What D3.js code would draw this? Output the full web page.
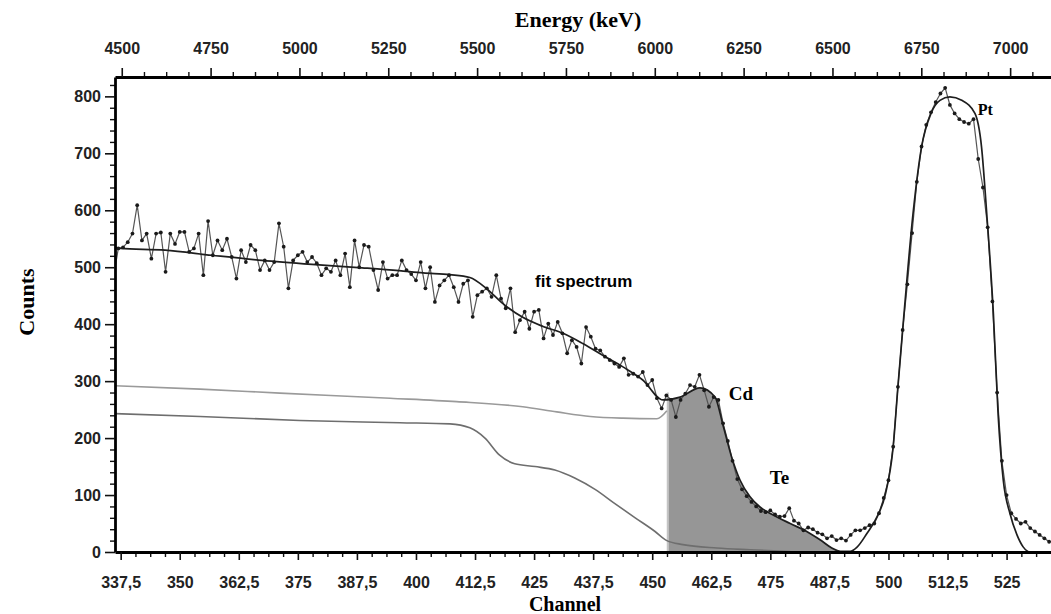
<!DOCTYPE html>
<html>
<head>
<meta charset="utf-8">
<script src="https://cdn.jsdelivr.net/npm/d3@7"></script>
<style>
  body { margin: 0; background: #fff; }
  svg { display: block; }
</style>
</head>
<body>
<svg id="chart" width="1051" height="614"></svg>
<script>
// measured spectrum: one value per channel, starting at firstChannel
const firstChannel = 336;
const counts = [
  483,533,535,544,559,609,547,559,515,559,
  561,492,559,541,562,562,527,533,559,486,
  581,521,547,530,550,518,480,530,509,539,
  530,495,512,495,509,577,536,463,512,521,
  527,509,518,507,486,498,492,512,486,524,
  465,547,500,539,536,495,460,509,480,486,
  486,512,495,488,477,509,463,500,439,468,
  477,486,465,439,471,477,413,451,457,463,
  448,486,445,428,463,386,407,422,392,422,
  425,375,401,381,404,384,349,372,360,331,
  395,378,357,354,343,337,331,325,340,311,
  313,308,316,293,302,270,252,275,267,237,
  267,278,293,290,311,284,255,272,267,226,
  195,160,128,110,98,88,80,72,70,73,
  66,62,63,77,55,50,38,43,40,34,
  31,24,28,21,24,20,30,38,38,42,
  47,50,68,95,126,185,290,390,470,560,
  650,712,750,772,790,805,815,785,770,760,
  755,752,760,690,640,570,440,280,160,100,
  68,58,50,53,42,36,30,24,18
];

// fitted spectrum
const fitChannels = [336, 337.4, 346.9, 356.8, 367.4, 378.0, 388.6, 396.4, 401.5, 407.2,
  411.4, 415.0, 418.4, 422.6, 426.9, 431.1, 435.3, 439.6, 443.8, 448.0,
  452.3, 455.9, 460.1, 463.3, 465.0, 466.8, 468.6, 470.7, 472.8, 475.6,
  479.2, 482.7, 485.6, 488.0, 489.8, 491.9, 493.3, 495.4, 497.6, 499.3,
  501.0, 502.0, 503.3, 505.2, 507.0, 509.0, 510.9, 513.0, 515.5, 518.3,
  519.7, 520.8, 522.2, 523.2, 524.3, 525.7, 527.2, 528.5, 530.0, 534.4];
const fitCounts = [536, 533, 530, 521, 512, 505, 499, 494, 490, 487,
  482, 462, 436, 412, 396, 384, 366, 345, 325, 302,
  267, 272, 288, 272, 222, 167, 126, 97, 79, 65,
  50, 36, 21, 7, 1, 1, 8, 32, 62, 100,
  185, 290, 419, 594, 711, 770, 793, 799, 793, 770,
  711, 594, 419, 243, 126, 68, 30, 9, 0, 0];

// background components
const bgUpperChannels = [336, 354.3, 371.2, 394.5, 408.6, 422.6, 429.8, 436.9, 443.8, 451.0, 453.1];
const bgUpperCounts   = [292, 286, 279, 270, 264, 255, 246, 238, 235, 234, 248];
const bgLowerChannels = [336, 354.3, 375.4, 396.6, 407.2, 411.4, 414.6, 417.7, 420.9, 425.2,
  429.4, 433.6, 437.9, 442.1, 446.4, 450.6, 453.1, 456.5, 463.7, 470.7, 479.2];
const bgLowerCounts   = [243, 238, 231, 227, 225, 218, 200, 170, 155, 150,
  144, 130, 110, 85, 60, 36, 20, 13, 7, 4, 1];

// shaded Cd region (channels)
const cdRange = [453.1, 491];

const channelTicks = [337.5, 350, 362.5, 375, 387.5, 400, 412.5, 425, 437.5, 450, 462.5, 475, 487.5, 500, 512.5, 525];
const energyTicks = [4500, 4750, 5000, 5250, 5500, 5750, 6000, 6250, 6500, 6750, 7000];
const countTicks = [0, 100, 200, 300, 400, 500, 600, 700, 800];

const notes = [
  {text: 'fit spectrum', ch: 425.2, v: 466, font: 'Liberation Sans', size: 17},
  {text: 'Cd', ch: 466.2, v: 267, font: 'Liberation Serif', size: 19},
  {text: 'Te', ch: 474.9, v: 120, font: 'Liberation Serif', size: 19},
  {text: 'Pt', ch: 518.9, v: 768, font: 'Liberation Serif', size: 16}
];

var svg = d3.select('#chart');
var m = {left: 115, right: 1051, top: 77, bottom: 552};

var x = d3.scaleLinear().domain([336.3, 534.4]).range([m.left, m.right]);
var xe = d3.scaleLinear().domain([4481, 7115]).range([m.left, m.right]);
var y = d3.scaleLinear().domain([0, 834]).range([m.bottom, m.top]);

var comma = function (d) { return String(d).replace('.', ','); };

var defs = svg.append('defs');
defs.append('clipPath').attr('id', 'plot')
  .append('rect').attr('x', m.left).attr('y', m.top).attr('width', m.right - m.left).attr('height', m.bottom - m.top);
defs.append('clipPath').attr('id', 'cd')
  .append('rect').attr('x', x(cdRange[0])).attr('y', m.top)
  .attr('width', x(cdRange[1]) - x(cdRange[0])).attr('height', m.bottom - m.top);

var fitData = fitChannels.map(function (c, i) { return [c, fitCounts[i]]; });
var pts = counts.map(function (v, i) { return [firstChannel + i, v]; });

var plot = svg.append('g').attr('clip-path', 'url(#plot)');

// shaded Cd area under the fit, with its lighter left edge
var cdArea = plot.append('g').attr('clip-path', 'url(#cd)');
cdArea.append('path')
  .datum(fitData)
  .attr('fill', '#969696')
  .attr('d', d3.area()
    .x(function (d) { return x(d[0]); })
    .y0(y(0))
    .y1(function (d) { return y(d[1]); })
    .curve(d3.curveMonotoneX));
cdArea.append('line')
  .attr('x1', x(cdRange[0]) + 1).attr('x2', x(cdRange[0]) + 1)
  .attr('y1', y(0)).attr('y2', y(280))
  .attr('stroke', '#c4c4c4').attr('stroke-width', 2);

var line = d3.line()
  .x(function (d) { return x(d[0]); })
  .y(function (d) { return y(d[1]); })
  .curve(d3.curveMonotoneX);

plot.append('path')
  .datum(bgUpperChannels.map(function (c, i) { return [c, bgUpperCounts[i]]; }))
  .attr('fill', 'none').attr('stroke', '#9a9a9a').attr('stroke-width', 1.6)
  .attr('d', line);

plot.append('path')
  .datum(bgLowerChannels.map(function (c, i) { return [c, bgLowerCounts[i]]; }))
  .attr('fill', 'none').attr('stroke', '#6e6e6e').attr('stroke-width', 1.6)
  .attr('d', line);

// measured points, joined
plot.append('path')
  .datum(pts)
  .attr('fill', 'none').attr('stroke', '#555').attr('stroke-width', 1.2)
  .attr('d', d3.line().x(function (d) { return x(d[0]); }).y(function (d) { return y(d[1]); }));

plot.append('path')
  .datum(fitData)
  .attr('fill', 'none').attr('stroke', '#1e1e1e').attr('stroke-width', 1.7)
  .attr('d', line);

plot.selectAll('circle').data(pts).enter().append('circle')
  .attr('cx', function (d) { return x(d[0]); })
  .attr('cy', function (d) { return y(d[1]); })
  .attr('r', 1.9)
  .attr('fill', '#1a1a1a');

// axes
function styleAxis(g, size) {
  g.selectAll('text')
    .attr('font-family', 'Liberation Sans, Arial, sans-serif')
    .attr('font-weight', 'bold')
    .attr('font-size', size)
    .attr('fill', '#222');
  g.selectAll('line').attr('stroke', '#111').attr('stroke-width', 1.6);
  g.select('.domain').attr('stroke', '#000').attr('stroke-width', 2.8);
}
function minorStyle(g) {
  g.select('.domain').remove();
  g.selectAll('line').attr('stroke', '#111').attr('stroke-width', 1.4);
}

var minorCounts = d3.range(0, 834, 20).filter(function (v) { return v % 100 !== 0; });
var minorCh = d3.range(337.5, 534, 3.125).filter(function (v) { return (v - 337.5) % 12.5 !== 0; });
var minorE = d3.range(4500, 7100, 62.5).filter(function (v) { return v % 250 !== 0; });

svg.append('g').attr('transform', 'translate(' + m.left + ',0)')
  .call(d3.axisLeft(y).tickValues(minorCounts).tickSize(5).tickFormat('').tickSizeOuter(0))
  .call(minorStyle);
svg.append('g').attr('transform', 'translate(0,' + m.bottom + ')')
  .call(d3.axisBottom(x).tickValues(minorCh).tickSize(5).tickFormat('').tickSizeOuter(0))
  .call(minorStyle);
svg.append('g').attr('transform', 'translate(0,' + m.top + ')')
  .call(d3.axisTop(xe).tickValues(minorE).tickSize(5).tickFormat('').tickSizeOuter(0))
  .call(minorStyle);

svg.append('g').attr('transform', 'translate(' + m.left + ',0)')
  .call(d3.axisLeft(y).tickValues(countTicks).tickSize(10).tickPadding(4).tickSizeOuter(0))
  .call(styleAxis, 16);
svg.append('g').attr('transform', 'translate(0,' + m.bottom + ')')
  .call(d3.axisBottom(x).tickValues(channelTicks).tickFormat(comma).tickSize(8).tickPadding(17).tickSizeOuter(0))
  .call(styleAxis, 16);
svg.append('g').attr('transform', 'translate(0,' + m.top + ')')
  .call(d3.axisTop(xe).tickValues(energyTicks).tickFormat(d3.format('d')).tickSize(9).tickPadding(14).tickSizeOuter(0))
  .call(styleAxis, 16);

// titles
var serif = 'Liberation Serif, Times New Roman, serif';
svg.append('text').attr('x', 578).attr('y', 27).attr('text-anchor', 'middle')
  .attr('font-family', serif).attr('font-weight', 'bold').attr('font-size', 22).text('Energy (keV)');
svg.append('text').attr('x', 565).attr('y', 611).attr('text-anchor', 'middle')
  .attr('font-family', serif).attr('font-weight', 'bold').attr('font-size', 20).text('Channel');
svg.append('text').attr('transform', 'translate(34,302) rotate(-90)').attr('text-anchor', 'middle')
  .attr('font-family', serif).attr('font-weight', 'bold').attr('font-size', 22).text('Counts');

svg.selectAll('.note').data(notes).enter().append('text')
  .attr('class', 'note')
  .attr('x', function (d) { return x(d.ch); })
  .attr('y', function (d) { return y(d.v); })
  .attr('font-family', function (d) { return d.font; })
  .attr('font-weight', 'bold')
  .attr('font-size', function (d) { return d.size; })
  .text(function (d) { return d.text; });
</script>
</body>
</html>
